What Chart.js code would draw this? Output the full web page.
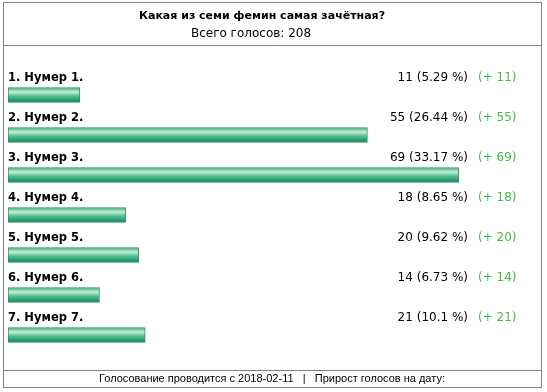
<!DOCTYPE html>
<html>
<head>
<meta charset="utf-8">
<script src="https://cdn.jsdelivr.net/npm/chart.js@4"></script>
<style>
  html, body { margin: 0; padding: 0; background: #fff; }
  #wrap { width: 547px; height: 392px; }
</style>
</head>
<body>
<div id="wrap"><canvas id="chart" width="547" height="392"></canvas></div>
<script>
// --- données du sondage ---
const pollTitle = "Какая из семи фемин самая зачётная?";
const pollTotal = "Всего голосов: 208";
const pollFooter = "Голосование проводится с 2018-02-11   |   Прирост голосов на дату:";
const labels = ["1. Нумер 1.", "2. Нумер 2.", "3. Нумер 3.", "4. Нумер 4.", "5. Нумер 5.", "6. Нумер 6.", "7. Нумер 7."];
const votes = [11, 55, 69, 18, 20, 14, 21];
const percents = ["5.29", "26.44", "33.17", "8.65", "9.62", "6.73", "10.1"];
const gains = [11, 55, 69, 18, 20, 14, 21];

const FONT = '"DejaVu Sans", Verdana, sans-serif';
const FONT_NARROW = '"Liberation Sans", Arial, sans-serif';

// --- cadre, titres et textes ---
const pollText = {
  id: 'pollText',
  beforeDraw(c) {
    const ctx = c.ctx;
    ctx.save();
    ctx.fillStyle = '#fff';
    ctx.fillRect(0, 0, c.width, c.height);
    ctx.strokeStyle = '#808080';
    ctx.lineWidth = 1;
    ctx.strokeRect(3.5, 2.5, 538, 385);
    ctx.beginPath();
    ctx.moveTo(3, 45.5); ctx.lineTo(542, 45.5);
    ctx.moveTo(3, 370.5); ctx.lineTo(542, 370.5);
    ctx.stroke();

    ctx.fillStyle = '#000';
    ctx.textAlign = 'center';
    ctx.textBaseline = 'middle';
    ctx.font = 'bold 11px ' + FONT;
    ctx.fillText(pollTitle, 262, 16);
    ctx.font = '12px ' + FONT;
    ctx.fillText(pollTotal, 251, 34);
    ctx.font = '11px ' + FONT_NARROW;
    ctx.fillText(pollFooter, 272, 379);
    ctx.restore();
  },
  afterDatasetsDraw(c) {
    const ctx = c.ctx;
    const y = c.scales.y;
    ctx.save();
    ctx.textBaseline = 'middle';
    labels.forEach((lab, i) => {
      const cy = y.getPixelForValue(i) - 17;
      ctx.font = 'bold 11.5px ' + FONT;
      ctx.fillStyle = '#000';
      ctx.textAlign = 'left';
      ctx.fillText(lab, 8, cy);
      ctx.font = '12px ' + FONT;
      ctx.textAlign = 'right';
      ctx.fillText(votes[i] + ' (' + percents[i] + ' %)', 468, cy);
      ctx.fillStyle = '#44bb44';
      ctx.textAlign = 'left';
      ctx.fillText('(+ ' + gains[i] + ')', 478, cy);
    });
    ctx.restore();
  }
};

// dégradé vertical pour chaque barre
function barGradient(context) {
  const chart = context.chart;
  const ys = chart.scales.y;
  if (!chart.chartArea || !ys) return '#1a9a62';
  const cy = ys.getPixelForValue(context.dataIndex);
  if (!isFinite(cy)) return '#1a9a62';
  const g = chart.ctx.createLinearGradient(0, cy - 7.5, 0, cy + 7.5);
  g.addColorStop(0, '#3fb07c');
  g.addColorStop(0.3, '#c6eed8');
  g.addColorStop(0.55, '#5cc291');
  g.addColorStop(1, '#07835a');
  return g;
}

new Chart(document.getElementById('chart'), {
  type: 'bar',
  data: {
    labels: labels,
    datasets: [{
      data: votes,
      backgroundColor: barGradient,
      borderColor: '#2a9468',
      borderWidth: 1,
      borderSkipped: false,
      barThickness: 15
    }]
  },
  options: {
    indexAxis: 'y',
    responsive: false,
    animation: false,
    layout: { padding: { left: 8, right: 11, top: 75, bottom: 37 } },
    plugins: { legend: { display: false }, tooltip: { enabled: false } },
    scales: {
      x: { display: false, min: 0, max: 80.8 },
      y: { display: false }
    }
  },
  plugins: [pollText]
});
</script>
</body>
</html>
